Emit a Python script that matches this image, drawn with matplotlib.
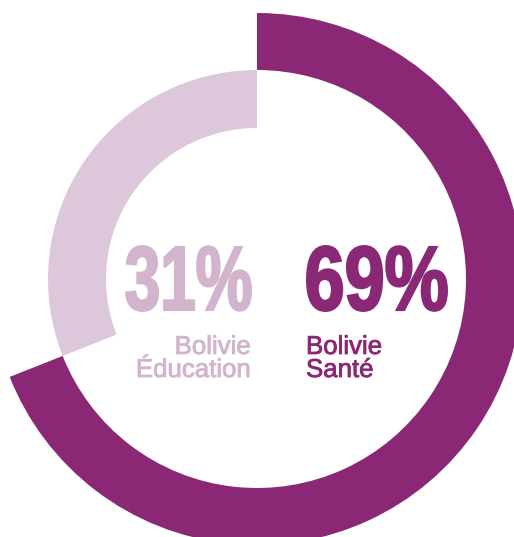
import matplotlib
matplotlib.use("Agg")
import matplotlib.pyplot as plt
import matplotlib.patheffects as pe
from matplotlib.textpath import TextPath
from matplotlib.font_manager import FontProperties
from matplotlib.patches import PathPatch
from matplotlib.transforms import Affine2D

# data
shares = [69, 31]
pct_labels = ["69%", "31%"]
names = ["Bolivie\nSanté", "Bolivie\nÉducation"]

dark = "#8a2875"
light_ring = "#ddc8db"
light_text = "#d2b4cc"

W, H = 514, 537
fig = plt.figure(figsize=(W / 100, H / 100), dpi=100)
ax = fig.add_axes([0, 0, 1, 1])

cx, cy = 257, H - 279

# outer ring: Santé
ax.pie(shares, radius=266, center=(cx, cy), startangle=90, counterclock=False,
       colors=[dark, "none"], wedgeprops=dict(width=57, linewidth=0))
# inner ring: Éducation
ax.pie(shares, radius=209, center=(cx, cy), startangle=90, counterclock=False,
       colors=["none", light_ring], wedgeprops=dict(width=58, linewidth=0))

ax.set_xlim(0, W)
ax.set_ylim(0, H)
ax.set_aspect("equal")
ax.axis("off")


def big_text(s, box, color):
    # condensed look: squeeze a bold glyph path into the box, stroke to fatten
    fp = FontProperties(family="Liberation Sans", weight="bold")
    tp = TextPath((0, 0), s, size=100, prop=fp)
    ext = tp.get_extents()
    x0, y0, x1, y1 = box
    x0, y0, x1, y1 = x0 + 1.2, y0 + 1.2, x1 - 1.2, y1 - 1.2
    tr = Affine2D().translate(-ext.x0, -ext.y0).scale(
        (x1 - x0) / ext.width, (y1 - y0) / ext.height).translate(x0, y0)
    ax.add_patch(PathPatch(tr.transform_path(tp), facecolor=color,
                           edgecolor=color, lw=1.7, joinstyle="miter"))


big_text(pct_labels[1], (125, H - 312, 252, H - 245), light_text)
big_text(pct_labels[0], (306, H - 312, 448, H - 245), dark)

for x, ha, label, col in [(251, "right", names[1], light_text),
                          (306, "left", names[0], dark)]:
    ax.text(x, H - 377, label, ha=ha, va="baseline", fontsize=18.6,
            family="Liberation Sans", color=col, linespacing=0.95,
            path_effects=[pe.withStroke(linewidth=0.6, foreground=col)])

fig.savefig("out.png", dpi=100)
